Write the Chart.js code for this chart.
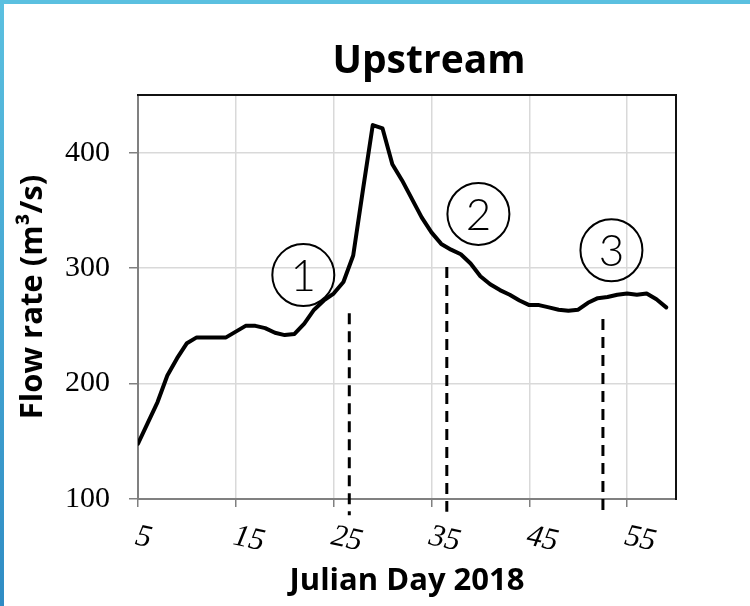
<!DOCTYPE html>
<html><head><meta charset="utf-8">
<script src="https://cdn.jsdelivr.net/npm/chart.js@4/dist/chart.umd.min.js"></script>
<style>
html,body{margin:0;padding:0;background:#fff;}
#wrap{position:relative;width:750px;height:606px;overflow:hidden;background:#fff;}
#edgeL{position:absolute;left:0;top:0;width:4px;height:606px;background:linear-gradient(#5bc0e0,#2f8cc4);}
#edgeT{position:absolute;left:0;top:0;width:750px;height:4px;background:#5bc0e0;}
canvas{position:absolute;left:0;top:0;}
</style></head>
<body><div id="wrap"><canvas id="c" width="750" height="606"></canvas><div id="edgeL"></div><div id="edgeT"></div></div>
<script>
// ---- data ----
const days = [5,6,7,8,9,10,11,12,13,14,15,16,17,18,19,20,21,22,23,24,25,26,27,28,29,30,31,32,33,34,35,36,37,38,39,40,41,42,43,44,45,46,47,48,49,50,51,52,53,54,55,56,57,58,59];
const flow = [148,166,184,207,222,235,240,240,240,240,245,250,250,248,244,242,243,252,264,272,278,288,311,368,424,421,390,376,360,344,331,321,316,312,304,293,286,281,277,272,268,268,266,264,263,264,270,274,275,277,278,277,278,273,266];
const xTickValues = [5,15,25,35,45,55];
const yTickValues = [100,200,300,400];
const markerLabels = ['1','2','3'];
const markerDays = [21.9,39.8,53.4];
const markerFlows = [294,347,315.5];
const eventDays = [26.6,36.57,52.53];
const eventTops = [261,301,256];
const eventBottoms = [86,89,85];
const titleText = 'Upstream';
const xTitle = 'Julian Day 2018';
const yTitle = 'Flow rate (m\u00B3/s)';

const serif = '"Liberation Serif","Times New Roman",serif';
const sans = '"Open Sans","Noto Sans",sans-serif';

const eventSets = eventDays.map((d,i)=>({
  data:[{x:d,y:eventTops[i]},{x:d,y:eventBottoms[i]}],
  borderColor:'#000', borderWidth:3, borderDash:[11,7], borderCapStyle:'butt',
  pointRadius:0, tension:0, clip:false, fill:false
}));

const frame = {
  id:'frame',
  afterDatasetsDraw(chart){
    const {ctx, chartArea:a} = chart;
    ctx.save();
    ctx.strokeStyle='#111'; ctx.lineWidth=2;
    ctx.beginPath();
    ctx.moveTo(a.left-1,a.top); ctx.lineTo(a.right,a.top); ctx.lineTo(a.right,a.bottom+1);
    ctx.stroke();
    // circle numbers
    const meta = chart.getDatasetMeta(4);
    ctx.fillStyle='#000';
    ctx.font='300 44px Lato, "Open Sans", sans-serif';
    ctx.textAlign='center'; ctx.textBaseline='alphabetic';
    meta.data.forEach((pt,i)=>{ ctx.fillText(markerLabels[i], pt.x, pt.y+16); });
    ctx.restore();
  },
  afterDraw(chart){
    const s = chart.scales.x, ctx = chart.ctx;
    ctx.save();
    // chart title
    ctx.font='bold 39px '+sans;
    ctx.fillStyle='#000'; ctx.textAlign='center'; ctx.textBaseline='alphabetic';
    ctx.fillText(titleText, 429, 73);
    // x tick labels, slanted like the original
    ctx.font='italic 31px '+serif;
    ctx.textAlign='left'; ctx.textBaseline='middle';
    s.ticks.forEach(t=>{
      const px = s.getPixelForValue(t.value);
      ctx.save(); ctx.translate(px-2, 536); ctx.rotate(12*Math.PI/180);
      ctx.fillText(String(t.value),0,0); ctx.restore();
    });
    ctx.restore();
  }
};

new Chart(document.getElementById('c'), {
  type:'line',
  data:{
    datasets:[
      { data: days.map((d,i)=>({x:d,y:flow[i]})), borderColor:'#000', borderWidth:4,
        pointRadius:0, tension:0, borderJoinStyle:'round', borderCapStyle:'round', fill:false },
      ...eventSets,
      { data: markerDays.map((d,i)=>({x:d,y:markerFlows[i]})), showLine:false,
        pointRadius:31, pointHoverRadius:31, pointBorderWidth:2, pointBorderColor:'#000',
        pointBackgroundColor:'rgba(0,0,0,0)', borderColor:'#000', clip:false }
    ]
  },
  options:{
    responsive:false, animation:false, devicePixelRatio:1,
    layout:{padding:{left:0,right:74,top:95,bottom:0}},
    plugins:{ legend:{display:false}, tooltip:{enabled:false}, title:{display:false} },
    scales:{
      x:{ type:'linear', min:5, max:60,
        afterBuildTicks:s=>{ s.ticks = xTickValues.map(v=>({value:v})); },
        afterFit:s=>{ s.height = 107; },
        grid:{color:'#d9d9d9', lineWidth:1.5, drawTicks:true, tickLength:8, tickColor:'#808080', tickWidth:1.5},
        border:{color:'#808080', width:2},
        ticks:{color:'rgba(0,0,0,0)', font:{family:serif,size:28}, maxRotation:0, autoSkip:false},
        title:{display:true, text:xTitle, color:'#000', font:{family:sans,size:31,weight:'bold',lineHeight:1.2}, padding:{top:0,bottom:6}}
      },
      y:{ min:100, max:450,
        afterBuildTicks:s=>{ s.ticks = yTickValues.map(v=>({value:v})); },
        afterFit:s=>{ s.width = 138; },
        grid:{color:'#d9d9d9', lineWidth:1.5, drawTicks:true, tickLength:9, tickColor:'#808080', tickWidth:1.5},
        border:{color:'#808080', width:2},
        ticks:{color:'#000', font:{family:serif,size:30}, padding:19},
        title:{display:true, text:yTitle, color:'#000', font:{family:sans,size:31,weight:'bold',lineHeight:1.2}, padding:{top:15,bottom:0}}
      }
    }
  },
  plugins:[frame]
});
</script>
</body></html>
